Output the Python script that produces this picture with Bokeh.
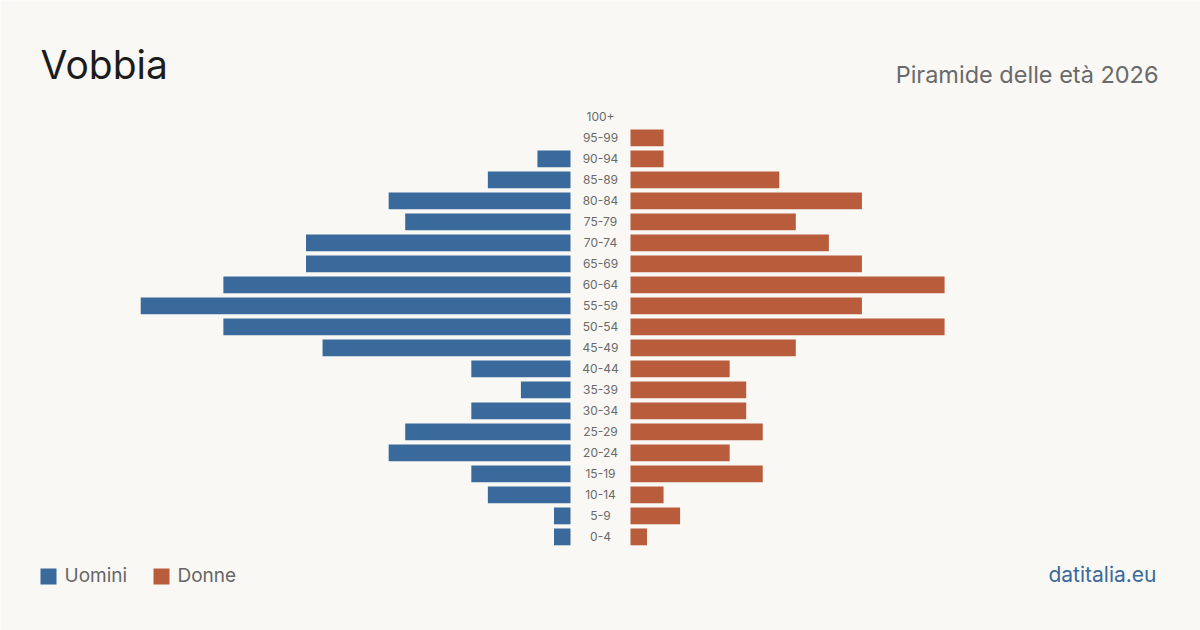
from bokeh.plotting import figure
from bokeh.models import Range1d, ColumnDataSource, Label
from bokeh.core.properties import value
from bokeh.embed import file_html
from bokeh.resources import INLINE

# ---- data ----
age_groups = ["0-4", "5-9", "10-14", "15-19", "20-24", "25-29", "30-34", "35-39",
              "40-44", "45-49", "50-54", "55-59", "60-64", "65-69", "70-74", "75-79",
              "80-84", "85-89", "90-94", "95-99", "100+"]
uomini = [1, 1, 5, 6, 11, 10, 6, 3, 6, 15, 21, 26, 21, 16, 16, 10, 11, 5, 2, 0, 0]
donne = [1, 3, 2, 8, 6, 8, 7, 7, 6, 10, 19, 14, 19, 14, 12, 10, 14, 9, 2, 2, 0]

title = "Vobbia"
subtitle = "Piramide delle età 2026"
legend_labels = ["Uomini", "Donne"]
source_label = "datitalia.eu"

# ---- style ----
W, H = 1200, 630
BG = "#f9f8f4"
BLUE = "#3a6a9b"
ORANGE = "#b95c3c"
FONT = "Inter"

PX_PER_UNIT = 16.53
ROW_PX = 21.0
ROW0_PX = 536.4  # pixel y (from top) of first row center
GAP_PX = 30.0

x_half = (W / 2) / PX_PER_UNIT
gap = GAP_PX / PX_PER_UNIT
y_top = ROW0_PX / ROW_PX
y_bottom = (ROW0_PX - H) / ROW_PX


def px_x(px):
    return (px - W / 2) / PX_PER_UNIT


def px_y(py):
    return (ROW0_PX - py) / ROW_PX


def baseline_y(py, size):
    # place text so that its alphabetic baseline lands at pixel row py
    return px_y(py - 0.41 * size)


p = figure(width=W, height=H, output_backend="svg", toolbar_location=None,
           x_range=Range1d(-x_half, x_half), y_range=Range1d(y_bottom, y_top),
           min_border=0, min_border_left=0, min_border_right=0,
           min_border_top=0, min_border_bottom=0)
p.xaxis.visible = False
p.yaxis.visible = False
p.grid.visible = False
p.outline_line_color = None
p.background_fill_color = BG
p.border_fill_color = BG

rows = list(range(len(age_groups)))
src = ColumnDataSource(dict(
    y=rows,
    age=age_groups,
    m_left=[-gap - v for v in uomini],
    m_right=[-gap] * len(rows),
    f_left=[gap] * len(rows),
    f_right=[gap + v for v in donne],
    zero=[0] * len(rows),
))

bar_h = 16.8 / ROW_PX
p.hbar(y="y", left="m_left", right="m_right", height=bar_h, source=src,
       fill_color=BLUE, line_color=None)
p.hbar(y="y", left="f_left", right="f_right", height=bar_h, source=src,
       fill_color=ORANGE, line_color=None)
p.text(x="zero", y="y", text="age", source=src, text_align="center",
       text_baseline="middle", text_font=value(FONT), text_font_size="12px",
       text_color="#6a6a6a")

# titles
p.add_layout(Label(x=px_x(40), y=baseline_y(80, 39), text=title, text_font=FONT,
                   text_font_size="39px", text_color="#1c1c1c",
                   text_baseline="alphabetic", text_align="left"))
p.add_layout(Label(x=px_x(1158), y=baseline_y(84, 23.5), text=subtitle, text_font=FONT,
                   text_font_size="23.5px", text_color="#6a6a6a",
                   text_baseline="alphabetic", text_align="right"))

# legend
legend_colors = [BLUE, ORANGE]
sq_x = [40, 153]
for lab, col, sx in zip(legend_labels, legend_colors, sq_x):
    p.quad(left=[px_x(sx)], right=[px_x(sx + 16)], top=[px_y(568)],
           bottom=[px_y(584)], fill_color=col, line_color=None)
    p.add_layout(Label(x=px_x(sx + 24), y=baseline_y(583, 19), text=lab, text_font=FONT,
                       text_font_size="19px", text_color="#666666",
                       text_baseline="alphabetic", text_align="left"))

p.add_layout(Label(x=px_x(1156), y=baseline_y(583, 21), text=source_label, text_font=FONT,
                   text_font_size="21px", text_color="#3a6a9b",
                   text_baseline="alphabetic", text_align="right"))

open("out.html", "w").write(file_html(p, INLINE))
